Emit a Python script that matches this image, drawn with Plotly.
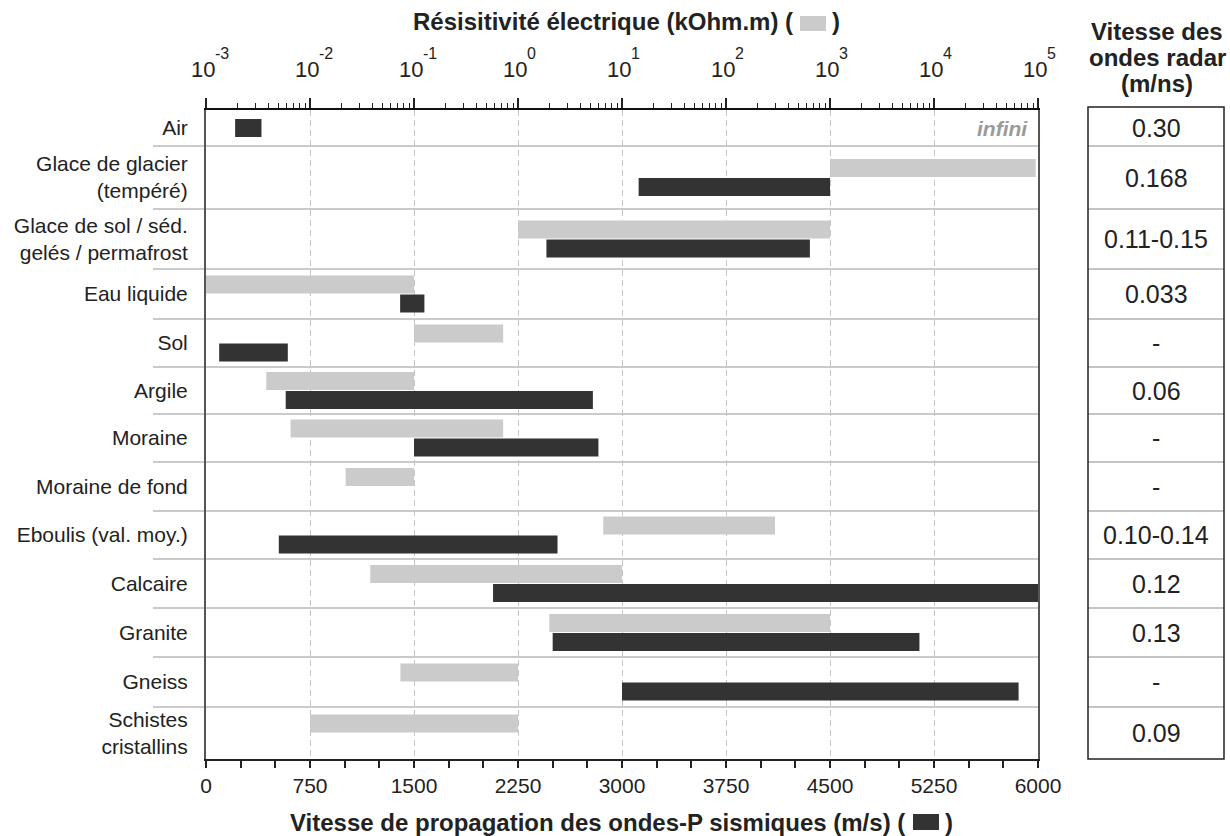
import math
import plotly.graph_objects as go

# ---------------- data ----------------
categories = [
    "Air",
    "Glace de glacier<br>(tempéré)",
    "Glace de sol / séd.<br>gelés / permafrost",
    "Eau liquide",
    "Sol",
    "Argile",
    "Moraine",
    "Moraine de fond",
    "Eboulis (val. moy.)",
    "Calcaire",
    "Granite",
    "Gneiss",
    "Schistes<br>cristallins",
]
# electrical resistivity (kOhm.m), None = not shown
res_min = [None, 1000, 1.0, 0.001, 0.1, 0.0038, 0.0065, 0.022, 6.6, 0.038, 2.0, 0.074, 0.01]
res_max = [None, 95000, 1000, 0.1, 0.72, 0.1, 0.72, 0.1, 296, 10, 1000, 1.0, 1.0]
# seismic P-wave velocity (m/s)
vp_min = [210, 3120, 2455, 1400, 95, 575, 1500, None, 525, 2070, 2500, 3000, None]
vp_max = [400, 4500, 4355, 1575, 590, 2790, 2830, None, 2535, 6000, 5145, 5860, None]
# radar wave velocity (m/ns)
radar = ["0.30", "0.168", "0.11-0.15", "0.033", "-", "0.06", "-", "-",
         "0.10-0.14", "0.12", "0.13", "-", "0.09"]
res_ticks = [1e-3, 1e-2, 1e-1, 1e0, 1e1, 1e2, 1e3, 1e4, 1e5]
res_tick_exp = ["-3", "-2", "-1", "0", "1", "2", "3", "4", "5"]

# ---------------- layout helpers ----------------
FONT = "Liberation Sans, Arial, sans-serif"
TXT = "#222222"
W, H = 1230, 836
L, T = 206, 110
row_h = [36, 63, 60, 50, 48, 47, 48, 49, 48, 49, 49, 50, 52]
total = sum(row_h)
B = H - T - total
avail = W - L
dom_end = (1038 - L) / avail
bounds = [0]
for h in row_h:
    bounds.append(bounds[-1] + h)
centers = [(bounds[i] + bounds[i + 1]) / 2 for i in range(len(row_h))]


def px_x(px):
    return (px - L) / avail


def px_y(py):
    return 1 - (py - T) / total


BAR = 18
OFF = 9.5

gy, gx, gb = [], [], []
for i, (lo, hi) in enumerate(zip(res_min, res_max)):
    if lo is None:
        continue
    gy.append(centers[i] - OFF)
    gb.append(lo)
    gx.append(hi - lo)

dy, dx, db = [], [], []
for i, (lo, hi) in enumerate(zip(vp_min, vp_max)):
    if lo is None:
        continue
    off = OFF if res_min[i] is not None else 0
    dy.append(centers[i] + off)
    db.append(lo)
    dx.append(hi - lo)

fig = go.Figure()
fig.add_trace(go.Bar(orientation="h", y=gy, x=gx, base=gb, width=BAR,
                     marker=dict(color="#cbcbcb", line=dict(width=0)),
                     xaxis="x2", yaxis="y", showlegend=False, hoverinfo="skip"))
fig.add_trace(go.Bar(orientation="h", y=dy, x=dx, base=db, width=BAR,
                     marker=dict(color="#333333", line=dict(width=0)),
                     xaxis="x", yaxis="y", showlegend=False, hoverinfo="skip"))

shapes = []
# row separators
for b in bounds[1:-1]:
    shapes.append(dict(type="line", xref="paper", yref="paper",
                       x0=px_x(153), x1=dom_end, y0=px_y(T + b), y1=px_y(T + b),
                       line=dict(color="#b8b8b8", width=1.5), layer="below"))
# table
tx0, tx1 = px_x(1088), px_x(1224)
for b in bounds[1:-1]:
    shapes.append(dict(type="line", xref="paper", yref="paper",
                       x0=tx0, x1=tx1, y0=px_y(T + b), y1=px_y(T + b),
                       line=dict(color="#b0b0b0", width=1.5)))
shapes.append(dict(type="rect", xref="paper", yref="paper",
                   x0=tx0, x1=tx1, y0=px_y(T + total), y1=px_y(T - 3),
                   line=dict(color="#222222", width=1.5)))
# legend boxes in titles
shapes.append(dict(type="rect", xref="paper", yref="paper",
                   x0=px_x(800), x1=px_x(826), y0=px_y(31), y1=px_y(16),
                   fillcolor="#cbcbcb", line=dict(width=0)))
shapes.append(dict(type="rect", xref="paper", yref="paper",
                   x0=px_x(913), x1=px_x(939), y0=px_y(830), y1=px_y(814),
                   fillcolor="#333333", line=dict(width=0)))

ann = []
# top log-axis labels: "10" with a raised exponent
for t, e in zip(res_ticks, res_tick_exp):
    ann.append(dict(xref="x2", yref="paper", x=math.log10(t), y=px_y(69),
                    text="10", showarrow=False, xanchor="center", yanchor="middle",
                    xshift=-3, font=dict(size=22, color=TXT, family=FONT)))
    ann.append(dict(xref="x2", yref="paper", x=math.log10(t), y=px_y(54),
                    text=e, showarrow=False, xanchor="left", yanchor="middle",
                    xshift=7, font=dict(size=16, color=TXT, family=FONT)))
for i, v in enumerate(radar):
    ann.append(dict(xref="paper", yref="y", x=px_x(1156), y=centers[i], text=v,
                    showarrow=False, xanchor="center", yanchor="middle",
                    font=dict(size=25, color=TXT, family=FONT)))
for txt, yy in [("Vitesse des", 31), ("ondes radar", 57), ("(m/ns)", 84)]:
    ann.append(dict(xref="paper", yref="paper", x=px_x(1157), y=px_y(yy),
                    text="<b>" + txt + "</b>", showarrow=False,
                    xanchor="center", yanchor="middle",
                    font=dict(size=24, color=TXT, family=FONT)))
ann.append(dict(xref="paper", yref="paper", x=px_x(795), y=px_y(22),
                text="<b>Résisitivité électrique (kOhm.m) (</b>", showarrow=False,
                xanchor="right", yanchor="middle",
                font=dict(size=24, color=TXT, family=FONT)))
ann.append(dict(xref="paper", yref="paper", x=px_x(830), y=px_y(22),
                text="<b>)</b>", showarrow=False, xanchor="left", yanchor="middle",
                font=dict(size=24, color=TXT, family=FONT)))
ann.append(dict(xref="paper", yref="paper", x=px_x(907), y=px_y(822),
                text="<b>Vitesse de propagation des ondes-P sismiques (m/s) (</b>",
                showarrow=False, xanchor="right", yanchor="middle",
                font=dict(size=24, color=TXT, family=FONT)))
ann.append(dict(xref="paper", yref="paper", x=px_x(943), y=px_y(822),
                text="<b>)</b>", showarrow=False, xanchor="left", yanchor="middle",
                font=dict(size=24, color=TXT, family=FONT)))
ann.append(dict(xref="paper", yref="y", x=px_x(1030), y=centers[0],
                text="<b><i>infini</i></b>", showarrow=False,
                xanchor="right", yanchor="middle",
                font=dict(size=21, color="#9a9a9a", family=FONT)))

fig.update_layout(
    width=W, height=H, autosize=False,
    margin=dict(l=L, r=0, t=T, b=B, pad=0, autoexpand=False),
    paper_bgcolor="white", plot_bgcolor="white",
    barmode="overlay",
    font=dict(family=FONT, color=TXT),
    xaxis=dict(domain=[0, dom_end], range=[0, 6000], tick0=0, dtick=750,
               ticks="outside", ticklen=7, tickwidth=1.5, tickcolor=TXT,
               showline=True, linecolor=TXT, linewidth=2,
               showgrid=True, gridcolor="#c4c4c4", gridwidth=1, griddash="6px,4px",
               zeroline=False, tickfont=dict(size=21, color=TXT, family=FONT),
               minor=dict(dtick=250, ticks="outside", ticklen=7, tickwidth=1.5,
                          tickcolor=TXT, showgrid=False),
               anchor="y", fixedrange=True, automargin=False),
    xaxis2=dict(type="log", range=[-3, 5], overlaying="x", side="top", anchor="y",
                tickmode="array", tickvals=res_ticks, showticklabels=False,
                ticks="outside", ticklen=10, tickwidth=1.5, tickcolor=TXT,
                showline=True, linecolor="#111111", linewidth=2,
                showgrid=False, zeroline=False,
                minor=dict(dtick="D1", ticks="outside", ticklen=5, tickwidth=1,
                           tickcolor=TXT, showgrid=False),
                fixedrange=True, automargin=False),
    yaxis=dict(domain=[0, 1], range=[total, 0], tickmode="array",
               tickvals=centers, ticktext=categories, ticks="",
               showline=True, linecolor="#555555", linewidth=2, mirror=True,
               showgrid=False, zeroline=False, ticklabelstandoff=12,
               tickfont=dict(size=21, color=TXT, family=FONT), fixedrange=True,
               automargin=False),
    shapes=shapes,
    annotations=ann,
)

fig.write_html("out.html")
